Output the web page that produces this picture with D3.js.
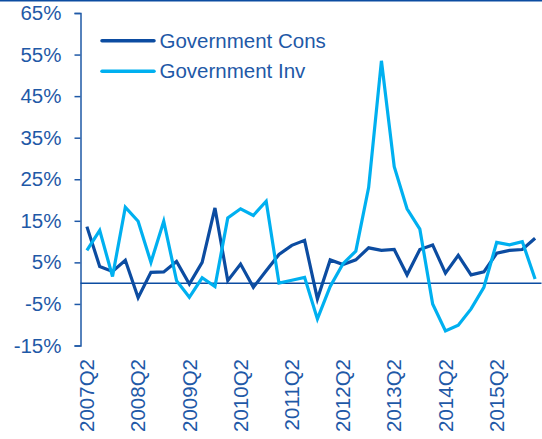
<!DOCTYPE html>
<html>
<head>
<meta charset="utf-8">
<script src="https://cdn.jsdelivr.net/npm/d3@7"></script>
<style>
  body { margin: 0; background: #fff; }
  text { font-family: "Liberation Sans", Arial, sans-serif; }
</style>
</head>
<body>
<div id="chart"></div>
<script>
const quarters = [
  '2007Q2','2007Q3','2007Q4','2008Q1','2008Q2','2008Q3','2008Q4','2009Q1',
  '2009Q2','2009Q3','2009Q4','2010Q1','2010Q2','2010Q3','2010Q4','2011Q1',
  '2011Q2','2011Q3','2011Q4','2012Q1','2012Q2','2012Q3','2012Q4','2013Q1',
  '2013Q2','2013Q3','2013Q4','2014Q1','2014Q2','2014Q3','2014Q4','2015Q1',
  '2015Q2','2015Q3','2015Q4','2016Q1'
];
const govCons = [
  13.6, 4.0, 2.8, 5.5, -3.5, 2.6, 2.7, 5.2, -0.2, 5.0, 18.1, 0.6,
  4.6, -1.0, 3.0, 6.9, 9.1, 10.3, -3.8, 5.6, 4.5, 5.6, 8.5, 7.9,
  8.1, 2.0, 8.1, 9.2, 2.4, 6.7, 2.0, 2.7, 7.2, 7.9, 8.1, 10.8
];
const govInv = [
  7.9, 12.7, 1.6, 18.3, 14.9, 5.0, 14.9, 0.6, -3.4, 1.3, -0.8, 15.7,
  17.9, 16.3, 19.7, 0.0, 0.7, 1.4, -8.6, -0.8, 4.7, 7.7, 23.0, 53.5,
  28.0, 17.9, 13.0, -5.0, -11.5, -10.1, -6.2, -1.0, 9.8, 9.2, 10.0, 1.0
];
const seriesNames = ['Government Cons', 'Government Inv'];
const yTicks = [-15, -5, 5, 15, 25, 35, 45, 55, 65];
const xTickLabels = ['2007Q2','2008Q2','2009Q2','2010Q2','2011Q2','2012Q2','2013Q2','2014Q2','2015Q2'];

const width = 542, height = 439;
const textColor = '#1f59a7';
const colors = ['#0c4ca1', '#00b0f0'];

const svg = d3.select('#chart')
  .append('svg')
  .attr('width', width)
  .attr('height', height);

// thin rule along the top edge
svg.append('rect')
  .attr('x', 0).attr('y', 0)
  .attr('width', width).attr('height', 1.5)
  .attr('fill', colors[0]);

const x = d3.scaleBand()
  .domain(quarters)
  .range([80.5, 541.5]);
const y = d3.scaleLinear()
  .domain([-15, 65])
  .range([345.5, 13]);

// y axis
const yAxis = svg.append('g')
  .attr('transform', 'translate(80.5,0)')
  .call(d3.axisLeft(y)
    .tickValues(yTicks)
    .tickSize(6)
    .tickPadding(13)
    .tickFormat(d => d + '%'));
yAxis.selectAll('path, line').attr('stroke', textColor).attr('stroke-width', 1.5);
yAxis.selectAll('text')
  .attr('fill', textColor)
  .style('font-size', '20.5px');

// x labels, no axis line
const xAxis = svg.append('g')
  .attr('transform', 'translate(0,359)')
  .call(d3.axisBottom(x).tickValues(xTickLabels).tickSize(0));
xAxis.select('.domain').remove();
xAxis.selectAll('text')
  .attr('fill', textColor)
  .style('font-size', '20.5px')
  .attr('text-anchor', 'end')
  .attr('y', 0)
  .attr('dy', '0.35em')
  .attr('transform', 'rotate(-90)');

// zero line
svg.append('line')
  .attr('x1', x.range()[0]).attr('x2', x.range()[1])
  .attr('y1', y(0)).attr('y2', y(0))
  .attr('stroke', colors[0])
  .attr('stroke-width', 1.5);

const line = d3.line()
  .x((d, i) => x(quarters[i]) + x.bandwidth() / 2)
  .y(d => y(d));

[govCons, govInv].forEach((s, k) => {
  svg.append('path')
    .datum(s)
    .attr('fill', 'none')
    .attr('stroke', colors[k])
    .attr('stroke-width', 3.2)
    .attr('stroke-linejoin', 'miter')
    .attr('d', line);
});

// legend
const legend = svg.append('g');
seriesNames.forEach((name, k) => {
  const ly = 40.7 + k * 30.5;
  legend.append('line')
    .attr('x1', 102).attr('x2', 154)
    .attr('y1', ly).attr('y2', ly)
    .attr('stroke', colors[k])
    .attr('stroke-width', 3.5)
    .attr('stroke-linecap', 'round');
  legend.append('text')
    .attr('x', 159.5).attr('y', ly)
    .attr('dy', '0.35em')
    .attr('fill', textColor)
    .style('font-size', '20.5px')
    .text(name);
});
</script>
</body>
</html>
